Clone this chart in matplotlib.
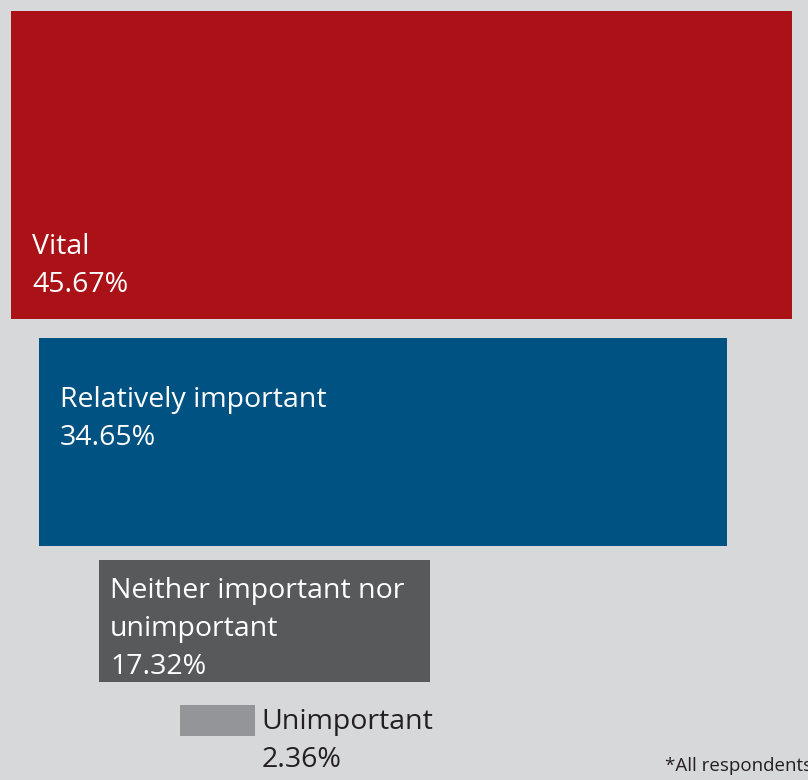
import matplotlib
matplotlib.use("Agg")
import matplotlib.pyplot as plt
from matplotlib.patches import Rectangle
import numpy as np

# Survey shares (percent of all respondents)
categories = ["Vital", "Relatively important", "Neither important nor\nunimportant", "Unimportant"]
shares = [45.67, 34.65, 17.32, 2.36]
footnote = "*All respondents"

# Styling
BG = "#d7d8da"
box_colors = ["#ab1218", "#005283", "#58595b", "#939598"]
text_colors = ["white", "white", "white", "#231f20"]
aspects = [2.537, 3.314, 2.706, 2.379]          # width / height of each box
corners = [(11, 11), (39, 338), (99, 560), (180, 705)]  # top-left of each box
# label offsets: (dx, dy of first baseline) relative to the box top-left;
# the last box carries its label outside, 7 px right of its edge
label_offsets = [(21, 243), (21, 69), (11, 38), (None, 24)]
LINE_PITCH = 38
FONT = ["Open Sans", "DejaVu Sans"]
FS = 20.5


def box_side(v):
    """Square-root-of-area scale: box size grows linearly with the share."""
    return 24.4 + 10.2 * v


W, H = 808, 780
fig = plt.figure(figsize=(W / 100, H / 100), dpi=100, facecolor=BG)
ax = fig.add_axes([0, 0, 1, 1])
ax.set_xlim(0, W)
ax.set_ylim(H, 0)
ax.axis("off")
ax.set_facecolor(BG)

for cat, v, col, tcol, asp, (x0, y0), (dx, dy) in zip(
        categories, shares, box_colors, text_colors, aspects, corners, label_offsets):
    s = box_side(v)
    w = s * np.sqrt(asp)
    h = s / np.sqrt(asp)
    ax.add_patch(Rectangle((x0, y0), w, h, facecolor=col, edgecolor="none"))
    lines = cat.split("\n") + [f"{v:.2f}%"]
    tx = x0 + w + 7 if dx is None else x0 + dx
    for i, line in enumerate(lines):
        ax.text(tx, y0 + dy + i * LINE_PITCH, line, color=tcol, fontsize=FS,
                family=FONT, ha="left", va="baseline")

ax.text(665, 771, footnote, color="#231f20", fontsize=13.5, family=FONT,
        ha="left", va="baseline", clip_on=False)

fig.savefig("out.png", dpi=100, facecolor=BG)
